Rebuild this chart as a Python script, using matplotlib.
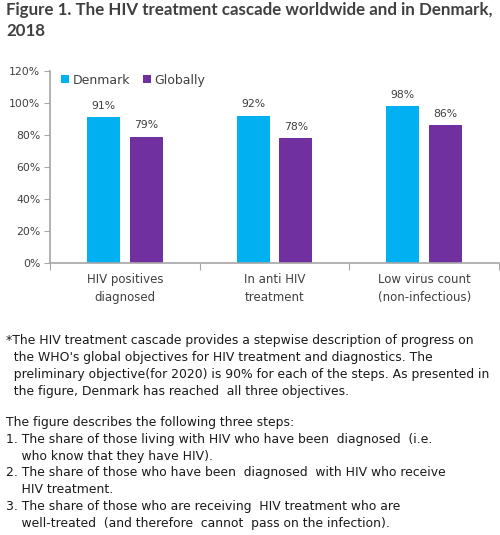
import numpy as np
import matplotlib.pyplot as plt

plt.rcParams['font.family'] = ['DejaVu Sans']

categories = ["HIV positives\ndiagnosed", "In anti HIV\ntreatment", "Low virus count\n(non-infectious)"]
denmark = [91, 92, 98]
globally = [79, 78, 86]
yticks = [0, 20, 40, 60, 80, 100, 120]

title = "Figure 1. The HIV treatment cascade worldwide and in Denmark,\n2018"
note = ("*The HIV treatment cascade provides a stepwise description of progress on\n"
        "  the WHO's global objectives for HIV treatment and diagnostics. The\n"
        "  preliminary objective(for 2020) is 90% for each of the steps. As presented in\n"
        "  the figure, Denmark has reached  all three objectives.")
steps = ["The figure describes the following three steps:",
         "1. The share of those living with HIV who have been  diagnosed  (i.e.",
         "    who know that they have HIV).",
         "2. The share of those who have been  diagnosed  with HIV who receive",
         "    HIV treatment.",
         "3. The share of those who are receiving  HIV treatment who are",
         "    well-treated  (and therefore  cannot  pass on the infection)."]

c_dk = "#00B0F0"
c_gl = "#7030A0"
grey = "#A6A6A6"
txt = "#404040"

fig = plt.figure(figsize=(5.0, 5.35), dpi=100)
ax = fig.add_axes([0.1, 0.5084, 0.898, 0.3589])

x = np.arange(len(categories))
w = 0.22
off = 0.143
b1 = ax.bar(x - off, denmark, w, color=c_dk, label="Denmark")
b2 = ax.bar(x + off, globally, w, color=c_gl, label="Globally")
for bars, vals in ((b1, denmark), (b2, globally)):
    for r, v in zip(bars, vals):
        ax.text(r.get_x() + r.get_width() / 2, v + 4, f"{v}%", ha="center",
                va="bottom", fontsize=7.8, color=txt)

ax.set_xlim(-0.5, 2.5)
ax.set_ylim(0, 120)
ax.set_yticks(yticks)
ax.set_yticklabels([f"{t}%" for t in yticks], fontsize=7.8, color=txt)
ax.set_xticks([-0.5, 0.5, 1.5, 2.5])
ax.set_xticklabels([])
ax.set_xticks(x, minor=True)
ax.set_xticklabels(categories, minor=True, fontsize=8.5, color=txt,
                   linespacing=1.5)
ax.tick_params(axis="x", which="minor", length=0, pad=7)
ax.tick_params(axis="x", which="major", length=5, color=grey)
ax.tick_params(axis="y", length=4, color=grey, pad=3)
for s in ("top", "right"):
    ax.spines[s].set_visible(False)
for s in ("left", "bottom"):
    ax.spines[s].set_color(grey)
    ax.spines[s].set_linewidth(1.2)

ax.legend(loc="upper left", bbox_to_anchor=(0.0, 1.045), ncol=2, frameon=False,
          fontsize=9, handlelength=0.6, handleheight=0.6, columnspacing=1.05,
          handletextpad=0.3, labelcolor=txt)

fig.text(0.012, 0.997, title, ha="left", va="top", fontsize=12.2,
         fontweight="bold", color=txt, linespacing=1.4, family="Lato")
fig.text(0.012, 1 - 334 / 535, note, ha="left", va="top", fontsize=8.9,
         color="#1a1a1a", linespacing=1.4)
fig.text(0.012, 1 - 416 / 535, "\n".join(steps), ha="left", va="top",
         fontsize=8.9, color="#1a1a1a", linespacing=1.38)

fig.savefig("out.png", dpi=100)
